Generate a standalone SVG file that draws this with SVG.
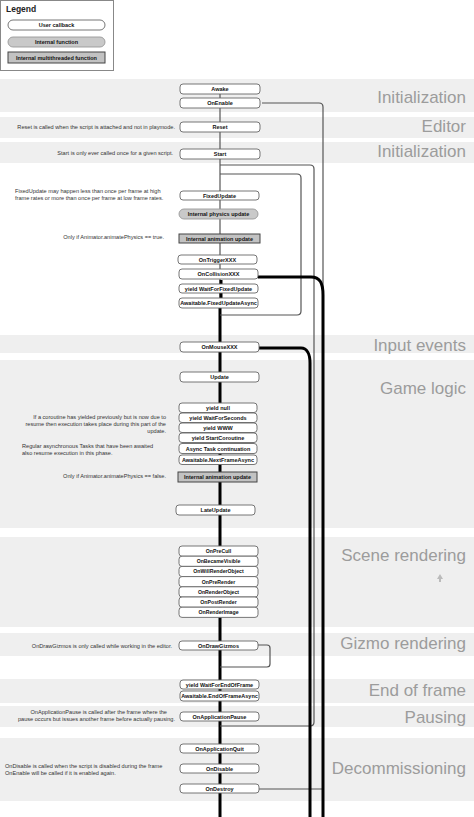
<svg xmlns="http://www.w3.org/2000/svg" width="474" height="817" viewBox="0 0 474 817">
<style>
.band{fill:#efefef}
.blabel{font-family:"Liberation Sans",Arial,sans-serif;font-size:17px;fill:#9c9c9c;text-anchor:end}
.note{font-family:"Liberation Sans",Arial,sans-serif;font-size:5.6px;fill:#333}
.r{text-anchor:end}
.cb{fill:#fff;stroke:#666;stroke-width:0.9}
.fn{fill:#c9c9c9;stroke:#999;stroke-width:0.9}
.mt{fill:#c2c2c2;stroke:#444;stroke-width:1}
.t{font-family:"Liberation Sans",Arial,sans-serif;font-size:5.5px;font-weight:bold;fill:#111;text-anchor:middle}
.ts{font-size:5.2px}
.thin{fill:none;stroke:#555;stroke-width:1.2}
.thick{fill:none;stroke:#000;stroke-width:3}
</style>

<g id="bands">
<rect class="band" x="0" y="79" width="474" height="33"/>
<rect class="band" x="0" y="117" width="474" height="21"/>
<rect class="band" x="0" y="142" width="474" height="21"/>
<rect class="band" x="0" y="335" width="474" height="18"/>
<rect class="band" x="0" y="360" width="474" height="168"/>
<rect class="band" x="0" y="537" width="474" height="90"/>
<rect class="band" x="0" y="633" width="474" height="23"/>
<rect class="band" x="0" y="679" width="474" height="24"/>
<rect class="band" x="0" y="706" width="474" height="21"/>
<rect class="band" x="0" y="738" width="474" height="63"/>
<text class="blabel" x="466" y="103">Initialization</text>
<text class="blabel" x="466" y="132">Editor</text>
<text class="blabel" x="466" y="157">Initialization</text>
<text class="blabel" x="466" y="351">Input events</text>
<text class="blabel" x="466" y="394">Game logic</text>
<text class="blabel" x="466" y="561">Scene rendering</text>
<text class="blabel" x="466" y="649">Gizmo rendering</text>
<text class="blabel" x="466" y="696">End of frame</text>
<text class="blabel" x="466" y="723">Pausing</text>
<text class="blabel" x="466" y="774">Decommissioning</text>
<path d="M440,574 L443,579 L441,579 L441,582 L439,582 L439,579 L437,579 Z" fill="#bbb"/>
</g>

<g id="legend">
<rect x="0.5" y="0.5" width="113" height="70" fill="#fff" stroke="#888" stroke-width="1"/>
<text x="6" y="12" font-family="Liberation Sans,Arial,sans-serif" font-size="8.5" font-weight="bold" fill="#222">Legend</text>
<rect class="cb" x="8" y="20" width="97" height="10" rx="5"/>
<text class="t" x="56.5" y="27">User callback</text>
<rect class="fn" x="8" y="37" width="97" height="10" rx="5"/>
<text class="t" x="56.5" y="44">Internal function</text>
<rect class="mt" x="8" y="52" width="97" height="11"/>
<text class="t" x="56.5" y="59.5">Internal multithreaded function</text>
</g>

<g id="notes">
<text class="note r" x="175" y="129">Reset is called when the script is attached and not in playmode.</text>
<text class="note r" x="173" y="155">Start is only ever called once for a given script.</text>
<text class="note" x="15" y="193">FixedUpdate may happen less than once per frame at high</text>
<text class="note" x="15" y="200">frame rates or more than once per frame at low frame rates.</text>
<text class="note r" x="164" y="239">Only if Animator.animatePhysics == true.</text>
<text class="note r" x="166" y="419">If a coroutine has yielded previously but is now due to</text>
<text class="note r" x="166" y="426">resume then execution takes place during this part of the</text>
<text class="note r" x="166" y="433">update.</text>
<text class="note" x="22" y="448">Regular asynchronous Tasks that have been awaited</text>
<text class="note" x="22" y="455">also resume execution in this phase.</text>
<text class="note r" x="166" y="478">Only if Animator.animatePhysics == false.</text>
<text class="note r" x="172" y="648">OnDrawGizmos is only called while working in the editor.</text>
<text class="note r" x="167" y="714">OnApplicationPause is called after the frame where the</text>
<text class="note r" x="175" y="721">pause occurs but issues another frame before actually pausing.</text>
<text class="note" x="5" y="768">OnDisable is called when the script is disabled during the frame</text>
<text class="note" x="5" y="775">OnEnable will be called if it is enabled again.</text>
</g>

<g id="connectors">
<path class="thin" d="M220,94 V308"/>
<path class="thick" d="M220,308 V817"/>
<path class="thin" d="M262,103 H319 Q323,103 323,107 V789 H259"/>
<path class="thin" d="M220,165 H310 Q314,165 314,169 V722 Q314,726 310,726 H220"/>
<path class="thin" d="M220,174 H297 Q301,174 301,178 V311 Q301,315 297,315 H220"/>
<path class="thin" d="M258,645 H267 Q270,645 270,648 V664 Q270,667 267,667 H220"/>
<path class="thick" d="M258,277 H311 C320,277 323,283 323,295 V817"/>
<path class="thick" d="M259,348 H301 C307,348 310,354 310,363 V817"/>
<path class="thick" d="M221,280 V284 M221,293 V298"/>
</g>

<g id="n-awake"><rect class="cb" x="180" y="84" width="80" height="10" rx="3"/><text class="t" x="220" y="91">Awake</text></g>
<g id="n-onenable"><rect class="cb" x="180" y="98" width="80" height="10" rx="3"/><text class="t" x="220" y="105">OnEnable</text></g>
<g id="n-reset"><rect class="cb" x="180" y="122" width="80" height="10" rx="3"/><text class="t" x="220" y="129">Reset</text></g>
<g id="n-start"><rect class="cb" x="180" y="149" width="80" height="10" rx="3"/><text class="t" x="220" y="156">Start</text></g>
<g id="n-fixedupdate"><rect class="cb" x="180" y="191" width="79" height="9" rx="3"/><text class="t" x="219.5" y="197.5">FixedUpdate</text></g>
<g id="n-physics"><rect class="fn" x="179" y="209" width="79" height="10" rx="5"/><text class="t" x="218.5" y="216">Internal physics update</text></g>
<g id="n-anim1"><rect class="mt" x="179" y="234" width="81" height="9"/><text class="t" x="219.5" y="240.5">Internal animation update</text></g>
<g id="n-ontrigger"><rect class="cb" x="178" y="255" width="79" height="9" rx="3"/><text class="t" x="217.5" y="261.5">OnTriggerXXX</text></g>
<g id="n-oncollision"><rect class="cb" x="179" y="269" width="79" height="10" rx="3"/><text class="t" x="218.5" y="276">OnCollisionXXX</text></g>
<g id="n-waitfixed"><rect class="cb" x="179" y="284" width="79" height="9" rx="3"/><text class="t" x="218.5" y="290.5">yield WaitForFixedUpdate</text></g>
<g id="n-fixedasync"><rect class="cb" x="179" y="298" width="79" height="10" rx="3"/><text class="t" x="218.5" y="305">Awaitable.FixedUpdateAsync</text></g>
<g id="n-onmouse"><rect class="cb" x="180" y="342" width="79" height="10" rx="3"/><text class="t" x="219.5" y="349">OnMouseXXX</text></g>
<g id="n-update"><rect class="cb" x="180" y="372" width="79" height="10" rx="3"/><text class="t" x="219.5" y="379">Update</text></g>
<g id="n-yieldnull"><rect class="cb" x="179" y="403" width="78" height="9.5" rx="3"/><text class="t" x="218" y="409.8">yield null</text></g>
<g id="n-waitsec"><rect class="cb" x="179" y="413" width="78" height="9.5" rx="3"/><text class="t" x="218" y="419.8">yield WaitForSeconds</text></g>
<g id="n-www"><rect class="cb" x="179" y="423" width="78" height="9.5" rx="3"/><text class="t" x="218" y="429.8">yield WWW</text></g>
<g id="n-startco"><rect class="cb" x="179" y="433" width="78" height="9.5" rx="3"/><text class="t" x="218" y="439.8">yield StartCoroutine</text></g>
<g id="n-asynctask"><rect class="cb" x="179" y="443.5" width="78" height="10" rx="3"/><text class="t" x="218" y="450.5">Async Task continuation</text></g>
<g id="n-nextframe"><rect class="cb" x="179" y="455" width="78" height="9.5" rx="3"/><text class="t" x="218" y="461.8">Awaitable.NextFrameAsync</text></g>
<g id="n-anim2"><rect class="mt" x="178" y="472" width="79" height="10"/><text class="t" x="217.5" y="479">Internal animation update</text></g>
<g id="n-lateupdate"><rect class="cb" x="176" y="505" width="79" height="10" rx="3"/><text class="t" x="215.5" y="512">LateUpdate</text></g>
<g id="n-oneprecull"><rect class="cb" x="179" y="546" width="79" height="10.2" rx="3"/><text class="t ts" x="218.5" y="553">OnPreCull</text></g>
<g id="n-becamevisible"><rect class="cb" x="179" y="556.2" width="79" height="10.2" rx="3"/><text class="t ts" x="218.5" y="563.2">OnBecameVisible</text></g>
<g id="n-willrender"><rect class="cb" x="179" y="566.4" width="79" height="10.2" rx="3"/><text class="t ts" x="218.5" y="573.4">OnWillRenderObject</text></g>
<g id="n-prerender"><rect class="cb" x="179" y="576.6" width="79" height="10.2" rx="3"/><text class="t ts" x="218.5" y="583.6">OnPreRender</text></g>
<g id="n-renderobject"><rect class="cb" x="179" y="586.8" width="79" height="10.2" rx="3"/><text class="t ts" x="218.5" y="593.8">OnRenderObject</text></g>
<g id="n-postrender"><rect class="cb" x="179" y="597" width="79" height="10.2" rx="3"/><text class="t ts" x="218.5" y="604">OnPostRender</text></g>
<g id="n-renderimage"><rect class="cb" x="179" y="607.2" width="79" height="10.2" rx="3"/><text class="t ts" x="218.5" y="614.2">OnRenderImage</text></g>
<g id="n-drawgizmos"><rect class="cb" x="179" y="641" width="79" height="9" rx="3"/><text class="t" x="218.5" y="647.5">OnDrawGizmos</text></g>
<g id="n-waitend"><rect class="cb" x="180" y="680" width="79" height="9" rx="3"/><text class="t" x="219.5" y="686.5">yield WaitForEndOfFrame</text></g>
<g id="n-endasync"><rect class="cb" x="180" y="691" width="79" height="10" rx="3"/><text class="t" x="219.5" y="698">Awaitable.EndOfFrameAsync</text></g>
<g id="n-apppause"><rect class="cb" x="180" y="712" width="79" height="9" rx="3"/><text class="t" x="219.5" y="718.5">OnApplicationPause</text></g>
<g id="n-appquit"><rect class="cb" x="180" y="744" width="79" height="9" rx="3"/><text class="t" x="219.5" y="750.5">OnApplicationQuit</text></g>
<g id="n-ondisable"><rect class="cb" x="180" y="764" width="79" height="9" rx="3"/><text class="t" x="219.5" y="770.5">OnDisable</text></g>
<g id="n-ondestroy"><rect class="cb" x="180" y="784" width="79" height="9" rx="3"/><text class="t" x="219.5" y="790.5">OnDestroy</text></g>
</svg>
